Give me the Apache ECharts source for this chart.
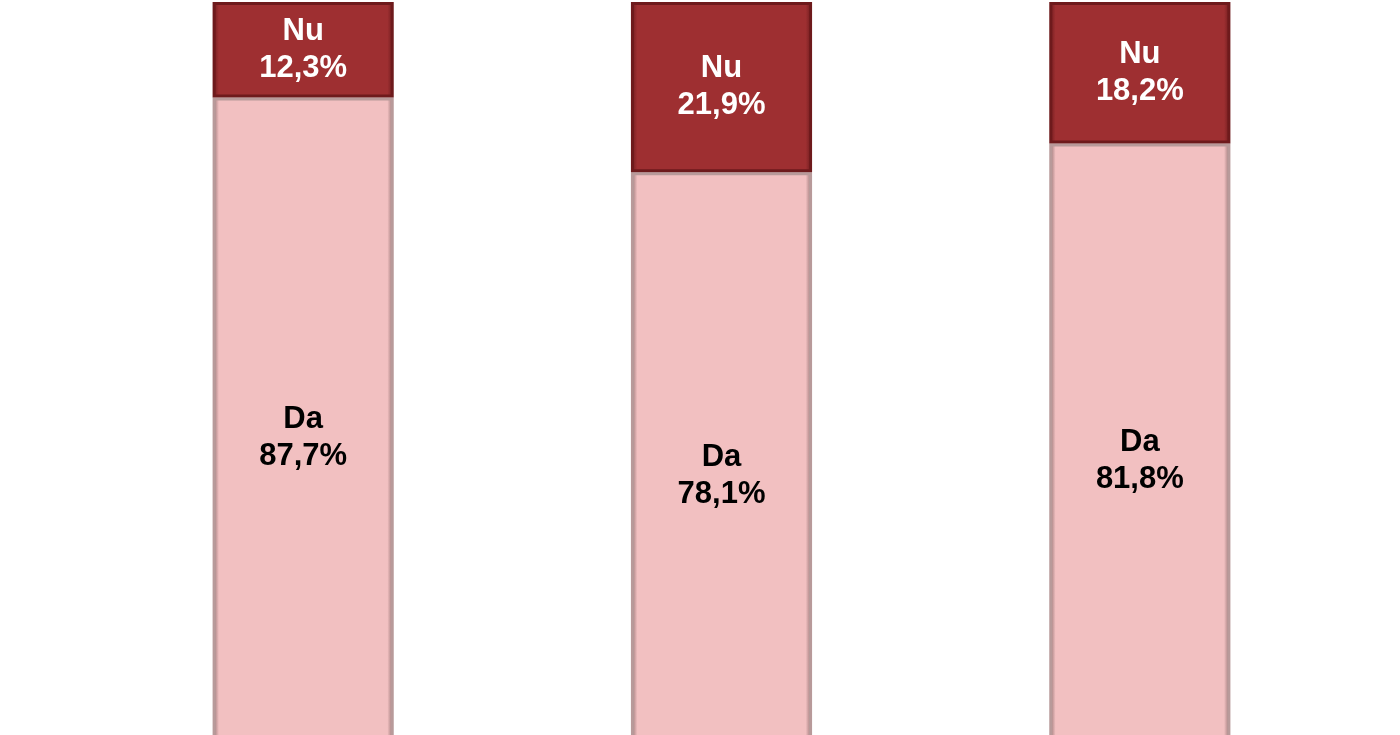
<!DOCTYPE html>
<html>
<head>
<meta charset="utf-8">
<script src="https://cdn.jsdelivr.net/npm/echarts@6/dist/echarts.min.js"></script>
<style>html,body{margin:0;padding:0;background:#fff;}#c{width:1400px;height:735px;}</style>
</head>
<body>
<div id="c"></div>
<script>
var categories = ['A', 'B', 'C'];
var daValues = [87.7, 78.1, 81.8];
var nuValues = [12.3, 21.9, 18.2];
var daName = 'Da';
var nuName = 'Nu';

var chart = echarts.init(document.getElementById('c'));
function fmt(name) {
  return function (p) { return name + '\n' + p.value.toFixed(1).replace('.', ',') + '%'; };
}
function bevel(base, edge) {
  return {
    type: 'linear', x: 0, y: 0, x2: 1, y2: 0,
    colorStops: [
      {offset: 0, color: edge},
      {offset: 0.035, color: base},
      {offset: 0.965, color: base},
      {offset: 1, color: edge}
    ]
  };
}
var font = "'Liberation Sans', Arial, sans-serif";
chart.setOption({
  animation: false,
  grid: {left: 94, right: 51, top: 2, height: 777, containLabel: false, outerBoundsMode: 'none'},
  xAxis: {type: 'category', data: categories, show: false},
  yAxis: {type: 'value', min: 0, max: 100, show: false},
  series: [
    {
      name: daName, type: 'bar', stack: 's', data: daValues, barWidth: '43.3%',
      itemStyle: {color: bevel('#F2C0C1', '#8a6a6a'), borderColor: '#b89a9a', borderWidth: 3},
      label: {show: true, position: 'inside', formatter: fmt(daName), color: '#000',
        fontFamily: font, fontWeight: 'bold', fontSize: 31, lineHeight: 37}
    },
    {
      name: nuName, type: 'bar', stack: 's', data: nuValues, barWidth: '43.3%',
      itemStyle: {color: bevel('#9E2F31', '#6a1a1c'), borderColor: '#6e1a1c', borderWidth: 3},
      label: {show: true, position: 'inside', formatter: fmt(nuName), color: '#fff',
        fontFamily: font, fontWeight: 'bold', fontSize: 31, lineHeight: 37}
    }
  ]
});
</script>
</body>
</html>
